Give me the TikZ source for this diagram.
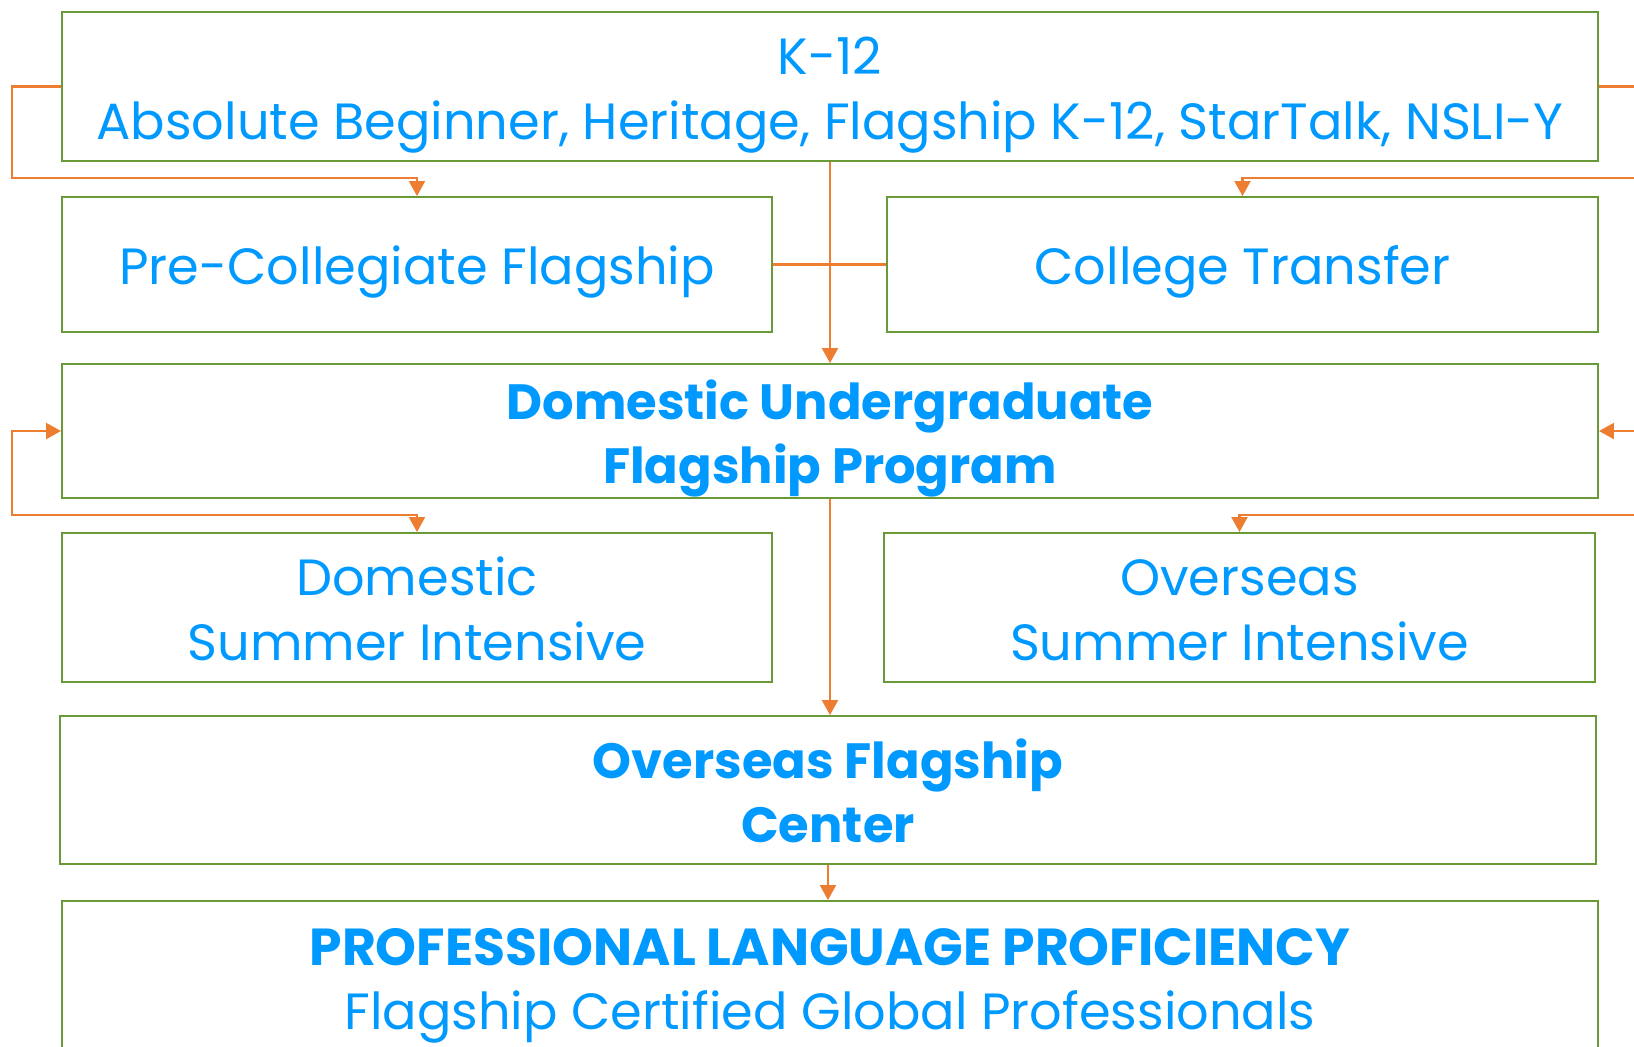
\documentclass[tikz,border=0pt]{standalone}
\usepackage{fontspec}
\setmainfont{Poppins}
\usetikzlibrary{arrows.meta}
\definecolor{boxgreen}{RGB}{106,154,54}
\definecolor{flowline}{RGB}{237,125,49}
\definecolor{txtblue}{RGB}{0,153,255}
\newcommand{\lnstrut}{\rule[-4pt]{0pt}{19.6pt}}
\tikzset{
  stage/.style={draw=boxgreen, line width=0.55pt, text=txtblue, align=center,
    inner sep=0pt, font=\fontsize{14.5}{18.4}\selectfont,
    execute at begin node=\lnstrut, execute at end node=\lnstrut},
  keystage/.style={stage, font=\fontsize{14.1}{18.4}\selectfont\bfseries},
  flow/.style={draw=flowline, line width=0.6pt}
}
\begin{document}
\begin{tikzpicture}[x=0.1mm, y=-0.1mm, >={Triangle[width=1.6mm,length=1.5mm]}]
  % --- page ---
  \useasboundingbox (0,0) rectangle (1634,1046);
  \clip (0,0) rectangle (1634,1046);
  % --- boxes ---
  \node[stage, minimum width=153.6mm, minimum height=14.9mm] (k12) at (830,86.5)
    {\lnstrut K-12\\Absolute Beginner, Heritage, Flagship K-12, StarTalk, NSLI-Y};
  \node[stage, minimum width=71mm, minimum height=13.5mm] (pre) at (417,264.5)
    {Pre-Collegiate Flagship};
  \node[stage, minimum width=71.1mm, minimum height=13.5mm] (ct) at (1242.5,264.5)
    {College Transfer};
  \node[keystage, minimum width=153.6mm, minimum height=13.4mm] (dufp) at (830,431)
    {\lnstrut Domestic Undergraduate\\Flagship Program};
  \node[stage, minimum width=71mm, minimum height=14.9mm] (dsi) at (417,607.5)
    {\lnstrut Domestic\\Summer Intensive};
  \node[stage, minimum width=71.1mm, minimum height=14.9mm] (osi) at (1239.5,607.5)
    {\lnstrut Overseas\\Summer Intensive};
  \node[keystage, minimum width=153.6mm, minimum height=14.8mm] (ofc) at (828,790)
    {\lnstrut Overseas Flagship\\Center};
  \node[stage, minimum width=153.6mm, minimum height=15.2mm] (plp) at (830,977)
    {\lnstrut{\fontsize{14.8}{18.4}\selectfont\bfseries PROFESSIONAL LANGUAGE PROFICIENCY}\\Flagship Certified Global Professionals};
  % --- main line ---
  \draw[flow, ->] (k12.south) -- (dufp.north);
  \draw[flow] (pre.east) -- (ct.west);
  \draw[flow, ->] (dufp.south) -- (dufp.south |- ofc.north);
  \draw[flow, ->] (ofc.south) -- (ofc.south |- plp.north);
  % --- side loops ---
  \draw[flow, ->] (k12.west) -- ++(-49,0) |- ([yshift=1.8mm]pre.north) -- (pre.north);
  \draw[flow, ->] (k12.east) -- ++(49,0) |- ([yshift=1.8mm]ct.north) -- (ct.north);
  \draw[flow, <->] (dufp.west) -- ++(-49,0) |- ([yshift=1.7mm]dsi.north) -- (dsi.north);
  \draw[flow, <->] (dufp.east) -- ++(49,0) |- ([yshift=1.7mm]osi.north) -- (osi.north);
\end{tikzpicture}
\end{document}
